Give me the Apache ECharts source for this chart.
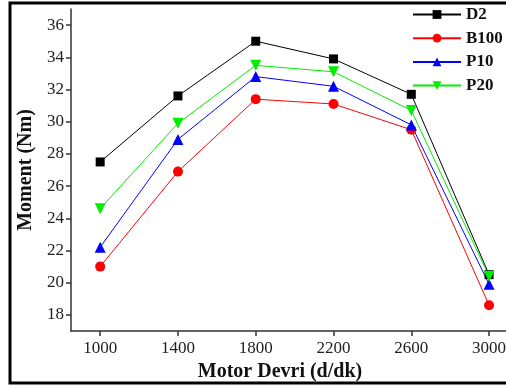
<!DOCTYPE html>
<html>
<head>
<meta charset="utf-8">
<script src="https://cdn.jsdelivr.net/npm/echarts@6/dist/echarts.min.js"></script>
<style>
html,body{margin:0;padding:0;background:#fff;}
#c{width:506px;height:387px;}
</style>
</head>
<body>
<div id="c"></div>
<script>
const rpm = [1000, 1400, 1800, 2200, 2600, 3000];
const D2 = [27.5, 31.6, 35.0, 33.9, 31.7, 20.5];
const B100 = [21.0, 26.9, 31.4, 31.1, 29.5, 18.6];
const P10 = [22.2, 28.9, 32.8, 32.2, 29.8, 19.9];
const P20 = [24.6, 29.9, 33.5, 33.1, 30.7, 20.4];
const yTicks = [18, 20, 22, 24, 26, 28, 30, 32, 34, 36];
const xTicks = [1000, 1400, 1800, 2200, 2600, 3000];

const serif = '"Liberation Serif", "DejaVu Serif", serif';
function pairs(arr){ return rpm.map((x,i)=>[x, arr[i]]); }
function mk(name, data, color, symbol, size){
  return {
    name, type:'line', data: pairs(data),
    symbol, symbolSize: size,
    lineStyle:{color, width:1},
    itemStyle:{color},
    emphasis:{disabled:true},
    animation:false
  };
}
const chart = echarts.init(document.getElementById('c'));
chart.setOption({
  animation:false,
  grid:{left:71, top:9, right:0, height:322, containLabel:false, outerBoundsMode:'none'},
  xAxis:{
    type:'value', min:850, max:3087,
    name:'Motor Devri (d/dk)', nameLocation:'middle', nameGap:31,
    nameTextStyle:{fontFamily:serif, fontWeight:'bold', fontSize:20, color:'#111', padding:[0,17,0,0]},
    axisLine:{show:true, lineStyle:{color:'#333', width:1.5}},
    axisTick:{show:true, inside:false, length:5, customValues:xTicks, lineStyle:{color:'#333', width:1.5}},
    axisLabel:{customValues:xTicks, formatter:v=>String(v), fontFamily:serif, fontSize:17, color:'#222', margin:9},
    splitLine:{show:false}
  },
  yAxis:{
    type:'value', min:17, max:37,
    name:'Moment (Nm)', nameLocation:'middle', nameGap:34, nameRotate:90,
    nameTextStyle:{fontFamily:serif, fontWeight:'bold', fontSize:20, color:'#111'},
    axisLine:{show:true, lineStyle:{color:'#333', width:1.5}},
    axisTick:{show:true, inside:false, length:5, customValues:yTicks, lineStyle:{color:'#333', width:1.5}},
    axisLabel:{customValues:yTicks, fontFamily:serif, fontSize:17, color:'#222', margin:7},
    splitLine:{show:false}
  },
  legend:{
    orient:'vertical', left:407, top:1, itemWidth:48, itemHeight:11, itemGap:6.7,
    textStyle:{fontFamily:serif, fontWeight:'bold', fontSize:17, lineHeight:17, color:'#111'},
    data:['D2','B100','P10','P20']
  },
  graphic:[{type:'rect', shape:{x:10, y:3, width:520, height:380}, style:{fill:'none', stroke:'#000', lineWidth:3}, silent:true}],
  series:[
    mk('D2', D2, '#000000', 'rect', 9),
    mk('B100', B100, '#ff0000', 'circle', 10),
    mk('P10', P10, '#0000ff', 'triangle', 11),
    mk('P20', P20, '#00ee00', 'path://M0,0 L10,0 L5,9 Z', 11)
  ]
});
</script>
</body>
</html>
